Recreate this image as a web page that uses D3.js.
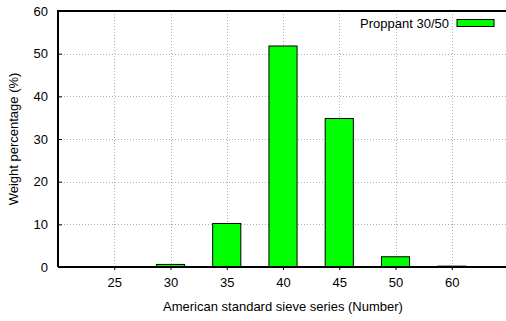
<!DOCTYPE html>
<html>
<head>
<meta charset="utf-8">
<script src="https://cdn.jsdelivr.net/npm/d3@7"></script>
<style>
  html, body { margin: 0; padding: 0; background: #fff; overflow: hidden; }
  svg { display: block; }
  text { font-family: "Liberation Sans", Arial, Helvetica, sans-serif; fill: #000; }
</style>
</head>
<body>
<svg id="chart" width="506" height="321"></svg>
<script>
// Sieve size distribution of the proppant sample
const sieves = ["25", "30", "35", "40", "45", "50", "60"];
const weightPct = [0, 0.6, 10.2, 51.8, 34.8, 2.4, 0.2];
const yTicks = [0, 10, 20, 30, 40, 50, 60];
const seriesName = "Proppant 30/50";

const svg = d3.select("#chart");
const W = 506, H = 321;
const m = { left: 58, top: 11, right: -2, bottom: 54 };
const x0 = m.left, x1 = W - m.right, y0 = H - m.bottom, y1 = m.top;

// one empty slot on each side of the categories
const x = d3.scaleLinear().domain([-1, sieves.length]).range([x0, x1]);
const step = x(1) - x(0);
const y = d3.scaleLinear().domain([0, 60]).range([y0, y1]);

// dotted grid
const grid = svg.append("g").attr("stroke", "#b0b0b0").attr("stroke-width", 1)
  .attr("stroke-dasharray", "1,2");
grid.selectAll("line.h").data(yTicks.filter(d => d > 0 && d < 60)).join("line")
  .attr("x1", x0).attr("x2", x1)
  .attr("y1", d => Math.round(y(d)) + 0.5).attr("y2", d => Math.round(y(d)) + 0.5);
grid.selectAll("line.v").data(sieves.map((s, i) => i)).join("line")
  .attr("x1", d => Math.round(x(d)) + 0.5).attr("x2", d => Math.round(x(d)) + 0.5)
  .attr("y1", y1).attr("y2", y0);

// bars
svg.append("g").selectAll("rect").data(weightPct).join("rect")
  .attr("x", (d, i) => x(i) - step * 0.25)
  .attr("width", step * 0.5)
  .attr("y", d => y(d))
  .attr("height", d => y0 - y(d))
  .attr("fill", "#00ff00")
  .attr("stroke", "#000")
  .attr("stroke-width", 1);

// axes (frame on top and left, baseline at bottom)
const yAxis = d3.axisLeft(y).tickValues(yTicks).tickSize(-4).tickPadding(10);
svg.append("g").attr("transform", `translate(${x0},0)`).call(yAxis)
  .call(g => g.select(".domain").remove())
  .call(g => g.selectAll("text").attr("font-size", 13).attr("font-family", "Liberation Sans, Arial, sans-serif"));

const xAxis = d3.axisBottom(x).tickValues(sieves.map((s, i) => i))
  .tickFormat(i => sieves[i]).tickSize(3).tickPadding(8);
svg.append("g").attr("transform", `translate(0,${y0})`).call(xAxis)
  .call(g => g.select(".domain").remove())
  .call(g => g.selectAll("text").attr("font-size", 13).attr("font-family", "Liberation Sans, Arial, sans-serif"));

const frame = svg.append("g").attr("stroke", "#000").attr("stroke-width", 2).attr("fill", "none");
frame.append("path").attr("d", `M${x0},${y0}V${y1}H${x1}`);
frame.append("line").attr("x1", x0).attr("x2", x1).attr("y1", y0).attr("y2", y0);

// legend
svg.append("text").attr("x", 449).attr("y", 28).attr("text-anchor", "end")
  .attr("font-size", 13).text(seriesName);
svg.append("rect").attr("x", 457).attr("y", 19.5).attr("width", 37).attr("height", 7)
  .attr("fill", "#00ff00").attr("stroke", "#000").attr("stroke-width", 1);

// axis titles
svg.append("text").attr("x", (x0 + x1) / 2).attr("y", 311).attr("text-anchor", "middle")
  .attr("font-size", 13).text("American standard sieve series (Number)");
svg.append("text").attr("transform", `translate(18,${(y0 + y1) / 2}) rotate(-90)`)
  .attr("text-anchor", "middle").attr("font-size", 13).text("Weight percentage (%)");
</script>
</body>
</html>
